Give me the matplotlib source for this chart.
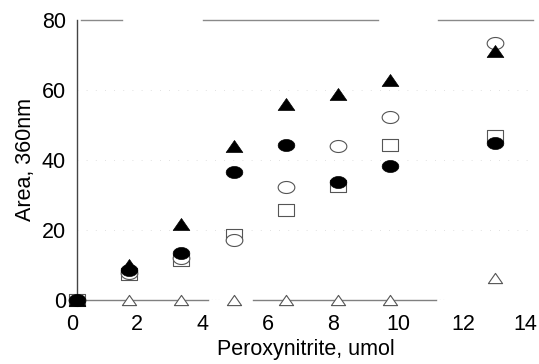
import numpy as np
import matplotlib
matplotlib.use("Agg")
import matplotlib.pyplot as plt
import matplotlib.transforms as mtransforms
from matplotlib.path import Path

plt.rcParams["font.family"] = ["Liberation Sans", "DejaVu Sans"]

# ── data ──────────────────────────────────────────────────────
peroxynitrite = [0, 1.6, 3.2, 4.8, 6.4, 8.0, 9.6, 12.8]
filled_tri    = [0, 10.0, 21.7, 44.0, 56.0, 58.8, 62.9, 71.0]
filled_circ   = [0, 8.6, 13.3, 36.7, 44.3, 33.8, 38.3, 44.8]
open_circ     = [0, 7.6, 12.0, 17.2, 32.4, 44.0, 52.4, 73.3]
open_sq       = [0, 7.4, 11.5, 18.6, 25.7, 32.6, 44.3, 46.9]
open_tri      = [0, 0, 0, 0, 0, 0, 0, 6.4]

x_ticks = [0, 2, 4, 6, 8, 10, 12, 14]
y_ticks = [0, 20, 40, 60, 80]

# ── squashed markers (wider than tall, like the original) ─────
theta = np.linspace(0, 2 * np.pi, 60)
ellipse = Path(np.column_stack([np.cos(theta), 0.72 * np.sin(theta)]), closed=True)
square = Path([(-1, -0.75), (1, -0.75), (1, 0.75), (-1, 0.75), (-1, -0.75)], closed=True)
triangle = Path([(-1, -0.72), (1, -0.72), (0, 0.72), (-1, -0.72)], closed=True)

fig = plt.figure(figsize=(5.39, 3.64), dpi=100)
ax = fig.add_axes([77 / 539, 64 / 364, 457 / 539, 280 / 364])
ax.set_xlim(0, 14)
ax.set_ylim(0, 80)

# faint dotted gridlines and the broken frame lines of the scan
for yv in [20, 40, 60]:
    ax.axhline(yv, color="#d6d6d6", lw=0.6, dashes=(1, 10), zorder=0)
for x0, x1 in [(0.12, 1.38), (3.87, 9.23), (11.07, 13.96)]:
    ax.plot([x0, x1], [80, 80], color="#8a8a8a", lw=1.0, zorder=1, clip_on=False)
for x0, x1 in [(0, 4.0), (5.4, 11.0)]:
    ax.plot([x0, x1], [0, 0], color="#808080", lw=1.0, zorder=1, clip_on=False)
ax.plot([4.0, 4.35], [0, 0], color="#a0a0a0", lw=0.8, dashes=(1, 2), zorder=1)
ax.plot([11.0, 11.25], [0, 0], color="#a0a0a0", lw=0.8, dashes=(1, 2), zorder=1)

ms = 12
ax.plot(peroxynitrite, open_tri, ls="none", marker=triangle, ms=ms * 0.85,
        mfc="white", mec="#555555", mew=0.8, zorder=3, clip_on=False)
ax.plot(peroxynitrite, open_sq, ls="none", marker=square, ms=ms * 0.95,
        mfc="white", mec="#555555", mew=0.8, zorder=3, clip_on=False)
ax.plot(peroxynitrite, open_circ, ls="none", marker=ellipse, ms=ms,
        mfc="white", mec="#555555", mew=0.8, zorder=4, clip_on=False)
ax.plot(peroxynitrite, filled_circ, ls="none", marker=ellipse, ms=ms,
        mfc="black", mec="black", mew=0.5, zorder=5, clip_on=False)
ax.plot(peroxynitrite, filled_tri, ls="none", marker=triangle, ms=ms,
        mfc="black", mec="black", mew=0.5, zorder=6, clip_on=False)

for side in ["top", "right", "bottom"]:
    ax.spines[side].set_visible(False)
ax.spines["left"].set_color("#444444")
ax.spines["left"].set_linewidth(1.0)

ax.set_xticks(x_ticks)
ax.set_yticks(y_ticks)
ax.tick_params(length=0, labelsize=15.5)
ax.tick_params(axis="y", pad=8)
ax.tick_params(axis="x", pad=10)
xlabels = ax.get_xticklabels()
for i, lbl in enumerate(xlabels):
    dx = -9 if i == len(xlabels) - 1 else -5
    shift = mtransforms.ScaledTranslation(dx / 100, 0, fig.dpi_scale_trans)
    lbl.set_transform(lbl.get_transform() + shift)

ax.set_xlabel("Peroxynitrite, umol", fontsize=15.5, labelpad=3)
ax.set_ylabel("Area, 360nm", fontsize=15.5, labelpad=4)

fig.savefig("out.png", dpi=100)
